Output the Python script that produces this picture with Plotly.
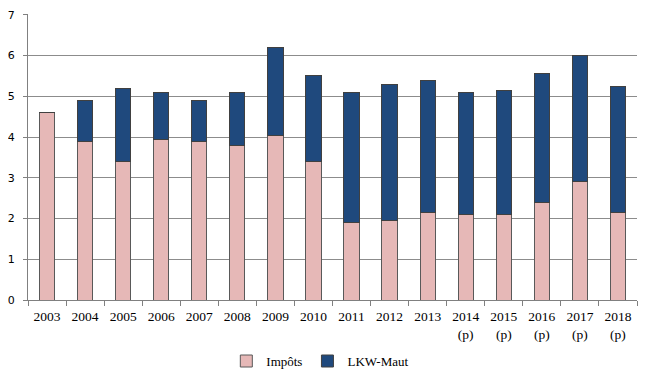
import plotly.graph_objects as go

years = ["2003", "2004", "2005", "2006", "2007", "2008", "2009", "2010", "2011", "2012", "2013",
         "2014<br>(p)", "2015<br>(p)", "2016<br>(p)", "2017<br>(p)", "2018<br>(p)"]
impots = [4.6, 3.9, 3.4, 3.95, 3.9, 3.8, 4.05, 3.4, 1.9, 1.95, 2.15, 2.1, 2.1, 2.4, 2.9, 2.15]
lkw_maut = [0.0, 1.0, 1.8, 1.15, 1.0, 1.3, 2.15, 2.1, 3.2, 3.35, 3.25, 3.0, 3.05, 3.15, 3.1, 3.1]

serif = "Liberation Serif"
fig = go.Figure()
fig.add_trace(go.Bar(x=years, y=impots, name="Impôts",
                     marker=dict(color="#E6B8B7", line=dict(color="#595959", width=1))))
fig.add_trace(go.Bar(x=years, y=lkw_maut, name="LKW-Maut",
                     marker=dict(color="#1F497D", line=dict(color="#404040", width=1))))

fig.update_layout(
    barmode="stack",
    bargap=0.6,
    width=645, height=376,
    margin=dict(l=20, r=16, t=6, b=84, autoexpand=False),
    paper_bgcolor="white", plot_bgcolor="white",
    showlegend=True,
    legend=dict(orientation="h", x=0.48, xanchor="center", yref="container", y=0.061,
                yanchor="middle", font=dict(family=serif, size=13, color="#000000"),
                itemwidth=30, traceorder="normal"),
    hovermode=False,
)
fig.update_xaxes(type="category", tickson="boundaries", ticks="outside", ticklen=5,
                 tickcolor="#808080", showline=True, linecolor="#808080", linewidth=1,
                 showgrid=False, tickfont=dict(family=serif, size=13.5, color="#000000"),
                 tickangle=0, automargin=False, ticklabelstandoff=4)
fig.update_yaxes(range=[0, 7.02], dtick=1, ticks="outside", ticklen=4, tickcolor="#808080",
                 showline=True, linecolor="#808080", linewidth=1,
                 showgrid=True, gridcolor="#8C8C8C", gridwidth=1, zeroline=False,
                 tickfont=dict(family="DejaVu Sans", size=11, color="#000000"),
                 automargin=False, ticklabelstandoff=6, ticklabeloverflow="allow")

fig.write_html("out.html", config={"displayModeBar": False})
